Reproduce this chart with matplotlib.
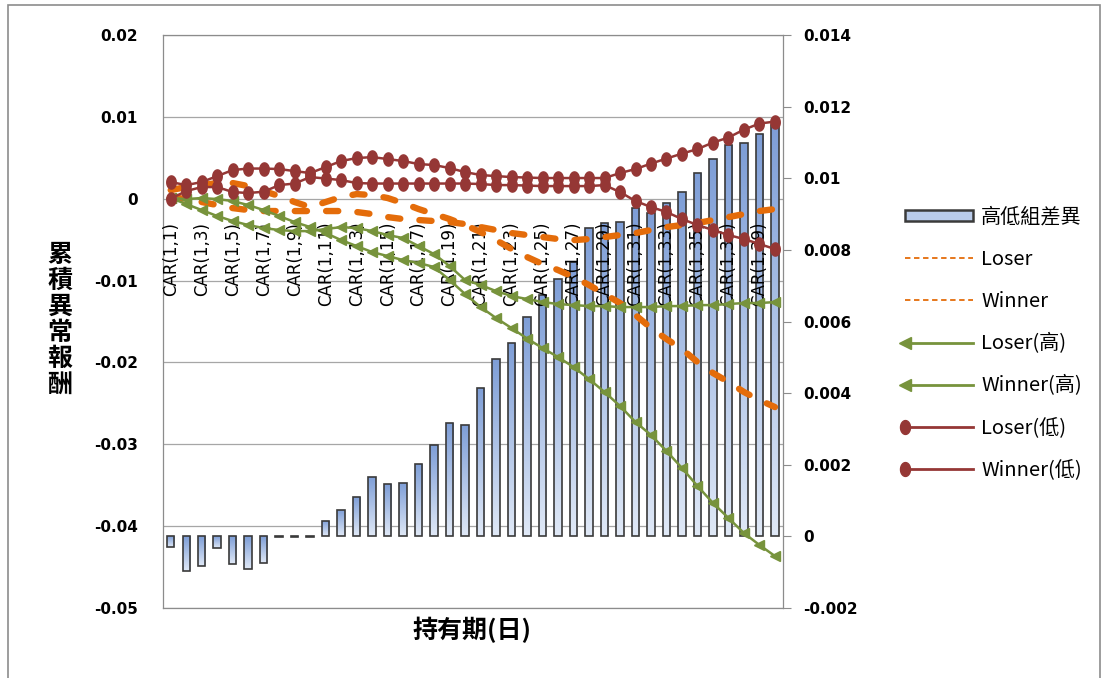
import numpy as np
import matplotlib
matplotlib.use("Agg")
import matplotlib.pyplot as plt
from matplotlib.colors import LinearSegmentedColormap
from matplotlib.legend_handler import HandlerLine2D
from matplotlib.lines import Line2D
from matplotlib.patches import Patch, Rectangle
from matplotlib.path import Path
from matplotlib.transforms import blended_transform_factory

# holding periods CAR(1,1) .. CAR(1,40)
periods = [f"CAR(1,{k})" for k in range(1, 41)]

# high minus low group difference (right axis)
spread = [-0.00030, -0.00096, -0.00082, -0.00033, -0.00078, -0.00092, -0.00075, -0.00003,
          -0.00002, -0.00002, 0.00044, 0.00074, 0.00109, 0.00167, 0.00145, 0.00149,
          0.00203, 0.00256, 0.00317, 0.00310, 0.00414, 0.00496, 0.00541, 0.00612,
          0.00674, 0.00719, 0.00767, 0.00860, 0.00876, 0.00879, 0.00916, 0.00903,
          0.00930, 0.00961, 0.01016, 0.01055, 0.01093, 0.01098, 0.01125, 0.01148]

# cumulative abnormal returns (left axis)
loser = [0.00106, 0.00143, 0.00167, 0.00192, 0.00192, 0.00155, 0.00094, 0.00033,
         -0.00040, -0.00101, -0.00040, 0.00021, 0.00057, 0.00045, 0.00009, -0.00053,
         -0.00126, -0.00187, -0.00248, -0.00321, -0.00407, -0.00505, -0.00614, -0.00712,
         -0.00798, -0.00871, -0.00957, -0.01054, -0.01164, -0.01274, -0.01421, -0.01580,
         -0.01714, -0.01836, -0.01995, -0.02129, -0.02239, -0.02361, -0.02459, -0.02545]
winner = [0.00021, -0.00004, -0.00040, -0.00077, -0.00114, -0.00138, -0.00150, -0.00150,
          -0.00150, -0.00150, -0.00150, -0.00150, -0.00162, -0.00187, -0.00224, -0.00248,
          -0.00260, -0.00272, -0.00285, -0.00309, -0.00346, -0.00382, -0.00419, -0.00443,
          -0.00468, -0.00492, -0.00505, -0.00492, -0.00468, -0.00443, -0.00419, -0.00382,
          -0.00346, -0.00321, -0.00297, -0.00260, -0.00224, -0.00187, -0.00150, -0.00126]
loser_hi = [0.00009, -0.00004, 0.00009, -0.00004, -0.00028, -0.00077, -0.00138, -0.00211,
            -0.00285, -0.00346, -0.00419, -0.00505, -0.00578, -0.00651, -0.00700, -0.00749,
            -0.00785, -0.00834, -0.00993, -0.01164, -0.01323, -0.01457, -0.01580, -0.01708,
            -0.01824, -0.01934, -0.02056, -0.02203, -0.02361, -0.02532, -0.02728, -0.02887,
            -0.03082, -0.03290, -0.03510, -0.03717, -0.03901, -0.04084, -0.04230, -0.04365]
winner_hi = [0.00009, -0.00065, -0.00138, -0.00211, -0.00272, -0.00321, -0.00358, -0.00382,
             -0.00395, -0.00395, -0.00370, -0.00346, -0.00358, -0.00395, -0.00443, -0.00480,
             -0.00578, -0.00676, -0.00822, -0.00993, -0.01054, -0.01128, -0.01189, -0.01225,
             -0.01262, -0.01286, -0.01299, -0.01311, -0.01311, -0.01323, -0.01323, -0.01323,
             -0.01311, -0.01311, -0.01299, -0.01299, -0.01286, -0.01274, -0.01274, -0.01262]
loser_lo = [0.00002, 0.00094, 0.00143, 0.00143, 0.00082, 0.00070, 0.00086, 0.00167,
            0.00186, 0.00265, 0.00247, 0.00228, 0.00192, 0.00186, 0.00186, 0.00186,
            0.00186, 0.00186, 0.00186, 0.00186, 0.00180, 0.00167, 0.00167, 0.00161,
            0.00155, 0.00155, 0.00155, 0.00155, 0.00167, 0.00082, -0.00028, -0.00101,
            -0.00162, -0.00248, -0.00321, -0.00382, -0.00443, -0.00492, -0.00553, -0.00614]
winner_lo = [0.00204, 0.00167, 0.00204, 0.00277, 0.00351, 0.00369, 0.00369, 0.00363,
             0.00338, 0.00314, 0.00387, 0.00461, 0.00497, 0.00509, 0.00485, 0.00461,
             0.00424, 0.00412, 0.00375, 0.00326, 0.00290, 0.00277, 0.00265, 0.00259,
             0.00253, 0.00253, 0.00253, 0.00253, 0.00253, 0.00314, 0.00363, 0.00430,
             0.00491, 0.00552, 0.00607, 0.00687, 0.00748, 0.00845, 0.00919, 0.00943]

left_ticks = [0.02, 0.01, 0, -0.01, -0.02, -0.03, -0.04, -0.05]
left_labels = ["0.02", "0.01", "0", "-0.01", "-0.02", "-0.03", "-0.04", "-0.05"]
right_ticks = [0.014, 0.012, 0.01, 0.008, 0.006, 0.004, 0.002, 0, -0.002]
right_labels = ["0.014", "0.012", "0.01", "0.008", "0.006", "0.004", "0.002", "0", "-0.002"]

ORANGE = "#E46C0A"
GREEN = "#77933C"
RED = "#953735"
GRID = "#a6a6a6"
CJK = ["Noto Sans CJK TC", "DejaVu Sans"]

# slightly tall oval marker for the red series
t = np.linspace(0, 2 * np.pi, 41)
oval = Path(np.column_stack([0.72 * np.cos(t), np.sin(t)]), closed=True)


class LeftMarkerHandler(HandlerLine2D):
    """Legend entry with the marker on the left end of the line."""

    def create_artists(self, legend, orig_handle, xdescent, ydescent, width, height,
                       fontsize, trans):
        artists = super().create_artists(legend, orig_handle, xdescent, ydescent,
                                         width, height, fontsize, trans)
        for a in artists:
            a.set_markevery([0])
        return artists


fig = plt.figure(figsize=(11.08, 6.78), dpi=100)
ax_bar = fig.add_axes([0.1471, 0.1032, 0.5593, 0.8451])
ax = ax_bar.twinx()

x = np.arange(len(periods))

# ---------- bars with vertical gradient ----------
bars = ax_bar.bar(x, spread, width=0.48, facecolor="none", edgecolor="#3a3a3a",
                  linewidth=1.2, zorder=3)
cmap = LinearSegmentedColormap.from_list("barfill", ["#dfe8f6", "#7e9ed7"])
grad = np.linspace(1, 0, 64).reshape(-1, 1)
for rect in bars:
    x0, w = rect.get_x(), rect.get_width()
    y0, h = rect.get_y(), rect.get_height()
    lo, hi = min(y0, y0 + h), max(y0, y0 + h)
    im = ax_bar.imshow(grad, extent=(x0, x0 + w, lo, hi), origin="upper", aspect="auto",
                       cmap=cmap, vmin=0, vmax=1, zorder=2, interpolation="bilinear")
    im.set_clip_path(rect)

# gridlines follow the left axis but sit behind the bars
trans = blended_transform_factory(ax_bar.transAxes, ax.transData)
for yv in left_ticks:
    ax_bar.plot([0, 1], [yv, yv], transform=trans, color=GRID, lw=0.9, zorder=1)

ax_bar.set_xlim(-0.5, len(periods) - 0.5)
ax_bar.set_ylim(-0.002, 0.014)
ax_bar.set_yticks(right_ticks, right_labels)
ax_bar.yaxis.tick_right()
ax_bar.tick_params(axis="y", direction="out", length=5.8, width=0.8, color="#8c8c8c",
                   pad=9, labelsize=11)
ax_bar.tick_params(axis="x", bottom=False, labelbottom=False)
for s in ax_bar.spines.values():
    s.set_color("#8c8c8c")
    s.set_linewidth(0.9)

# ---------- CAR lines ----------
dash_kw = dict(color=ORANGE, lw=4.6, dashes=(1.9, 3.0), dash_capstyle="round", zorder=3)
ax.plot(x, loser, **dash_kw)
ax.plot(x, winner, **dash_kw)
ax.plot(x, loser_hi, color=GREEN, lw=1.8, marker="<", ms=7.5, zorder=4)
ax.plot(x, winner_hi, color=GREEN, lw=1.8, marker="<", ms=7.5, zorder=4)
ax.plot(x, loser_lo, color=RED, lw=1.8, marker=oval, ms=9.5, zorder=5)
ax.plot(x, winner_lo, color=RED, lw=1.8, marker=oval, ms=9.5, zorder=5)

ax.set_xlim(-0.5, len(periods) - 0.5)
ax.set_ylim(-0.05, 0.02)
ax.yaxis.tick_left()
ax.set_yticks(left_ticks, left_labels)
ax.tick_params(axis="y", length=0, pad=18, labelsize=11)
for lab in ax.get_yticklabels() + ax_bar.get_yticklabels():
    lab.set_fontweight("bold")

# category labels hang from the zero line
ax.xaxis.set_visible(True)
ax.spines["bottom"].set_position(("data", 0))
for s in ax.spines.values():
    s.set_visible(False)
ax.set_xticks(x[::2], periods[::2], rotation=90)
ax.tick_params(axis="x", length=0, pad=16.5, labelsize=12)

# ---------- axis titles ----------
fig.text(0.054, 0.528, "\n".join("累積異常報酬"), ha="center", va="center",
         fontsize=18, fontweight="bold", family=CJK, linespacing=1.1)
fig.text(0.426, 0.071, "持有期(日)", ha="center", va="center",
         fontsize=18, fontweight="bold", family=CJK)

# ---------- legend ----------
handles = [
    Patch(facecolor="#b9cbea", edgecolor="#3a3a3a", linewidth=1.8),
    Line2D([], [], color=ORANGE, lw=1.3, dashes=(3, 2)),
    Line2D([], [], color=ORANGE, lw=1.3, dashes=(3, 2)),
    Line2D([], [], color=GREEN, lw=2.0, marker="<", ms=8),
    Line2D([], [], color=GREEN, lw=2.0, marker="<", ms=8),
    Line2D([], [], color=RED, lw=2.0, marker=oval, ms=10),
    Line2D([], [], color=RED, lw=2.0, marker=oval, ms=10),
]
labels = ["高低組差異", "Loser", "Winner", "Loser(高)", "Winner(高)", "Loser(低)", "Winner(低)"]
fig.legend(handles, labels, loc="upper left", bbox_to_anchor=(0.800, 0.722), frameon=False,
           prop={"family": CJK, "size": 14.5}, handlelength=3.4, handleheight=0.5,
           handletextpad=0.4, labelspacing=1.05, numpoints=1,
           handler_map={Line2D: LeftMarkerHandler(numpoints=1)})

# chart area border
fig.add_artist(Rectangle((8 / 1108, -0.05), (1100 - 8) / 1108, 1 - 5 / 678 + 0.05,
                         transform=fig.transFigure, fill=False, edgecolor="#8c8c8c",
                         linewidth=1.2))

fig.savefig("out.png", dpi=100)
